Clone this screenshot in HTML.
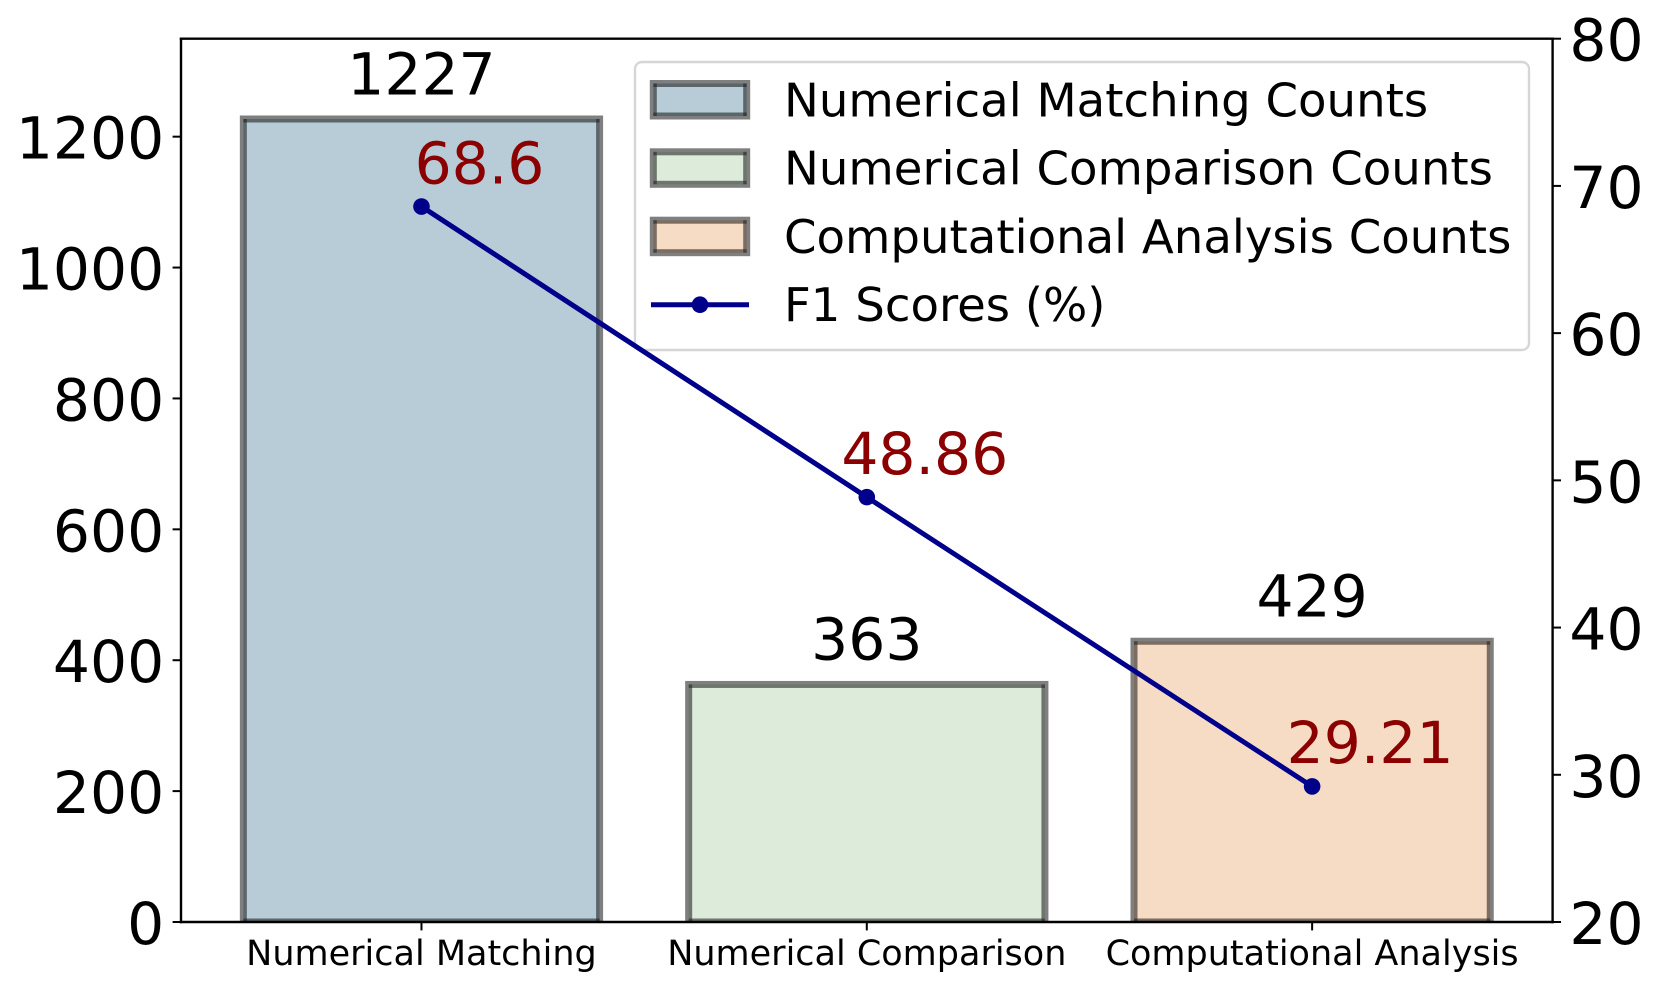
<!DOCTYPE html>
<html lang="en">
<head>
<meta charset="utf-8">
<title>Counts and F1 Scores</title>
<style>
html,body{margin:0;padding:0;background:#fff;}
svg{display:block;font-family:"DejaVu Sans","Liberation Sans",sans-serif;}
</style>
</head>
<body>
<svg id="chart" xmlns="http://www.w3.org/2000/svg" width="1660" height="989" viewBox="0 0 1660 989">
  <rect x="0" y="0" width="1660" height="989" fill="#ffffff"/>
  <g id="bars"></g>
  <g id="axes"></g>
  <g id="legend">
    <rect x="635" y="62" width="894" height="288" rx="7" ry="7" fill="#ffffff" fill-opacity="0.8" stroke="#d6d6d6" stroke-width="2.4"/>
    <g>
      <rect x="653.3" y="83.5" width="93.4" height="32.5" fill="#b7ccd6"/>
      <rect x="653.3" y="83.5" width="93.4" height="32.5" fill="none" stroke="#000" stroke-opacity="0.5" stroke-width="7"/>
      <g fill="#000" fill-opacity="0.4">
        <rect x="653.3" y="83.5" width="3.5" height="3.5"/><rect x="743.2" y="83.5" width="3.5" height="3.5"/>
        <rect x="653.3" y="112.5" width="3.5" height="3.5"/><rect x="743.2" y="112.5" width="3.5" height="3.5"/>
      </g>
      <text x="784" y="116.3" font-size="46.6" fill="#000">Numerical Matching Counts</text>
    </g>
    <g>
      <rect x="653.3" y="151.8" width="93.4" height="32.5" fill="#dcebda"/>
      <rect x="653.3" y="151.8" width="93.4" height="32.5" fill="none" stroke="#000" stroke-opacity="0.5" stroke-width="7"/>
      <g fill="#000" fill-opacity="0.4">
        <rect x="653.3" y="151.8" width="3.5" height="3.5"/><rect x="743.2" y="151.8" width="3.5" height="3.5"/>
        <rect x="653.3" y="180.8" width="3.5" height="3.5"/><rect x="743.2" y="180.8" width="3.5" height="3.5"/>
      </g>
      <text x="784" y="184.5" font-size="46.6" fill="#000">Numerical Comparison Counts</text>
    </g>
    <g>
      <rect x="653.3" y="220.2" width="93.4" height="32.5" fill="#f6dbc5"/>
      <rect x="653.3" y="220.2" width="93.4" height="32.5" fill="none" stroke="#000" stroke-opacity="0.5" stroke-width="7"/>
      <g fill="#000" fill-opacity="0.4">
        <rect x="653.3" y="220.2" width="3.5" height="3.5"/><rect x="743.2" y="220.2" width="3.5" height="3.5"/>
        <rect x="653.3" y="249.2" width="3.5" height="3.5"/><rect x="743.2" y="249.2" width="3.5" height="3.5"/>
      </g>
      <text x="784" y="253" font-size="46.6" fill="#000">Computational Analysis Counts</text>
    </g>
    <g>
      <line x1="651" y1="304.7" x2="749" y2="304.7" stroke="#00008b" stroke-width="5"/>
      <circle cx="700" cy="304.7" r="8.3" fill="#00008b"/>
      <text x="784" y="321.2" font-size="46.6" fill="#000">F1 Scores (%)</text>
    </g>
  </g>
  <g id="series"></g>
  <g id="labels"></g>
</svg>
<script>
const categories = ["Numerical Matching", "Numerical Comparison", "Computational Analysis"];
const counts = [1227, 363, 429];
const f1Scores = [68.6, 48.86, 29.21];
const leftTicks = [0, 200, 400, 600, 800, 1000, 1200];
const rightTicks = [20, 30, 40, 50, 60, 70, 80];
const barColors = ["#b7ccd6", "#dcebda", "#f6dbc5"];

const NS = "http://www.w3.org/2000/svg";
const plot = {left: 181, right: 1552.6, top: 38.7, bottom: 922};
const yMaxLeft = 1349.7;
const yMinRight = 20;
const yMaxRight = 80;
const xMin = -0.54;
const xMax = 2.54;
const barWidth = 0.8;

function xScale(v) { return plot.left + (v - xMin) / (xMax - xMin) * (plot.right - plot.left); }
function yLeft(v) { return plot.bottom - v / yMaxLeft * (plot.bottom - plot.top); }
function yRight(v) { return plot.bottom - (v - yMinRight) / (yMaxRight - yMinRight) * (plot.bottom - plot.top); }

function make(tag, attrs, parent) {
  const el = document.createElementNS(NS, tag);
  Object.keys(attrs).forEach(function (k) { el.setAttribute(k, attrs[k]); });
  parent.appendChild(el);
  return el;
}

const barsG = document.getElementById("bars");
const axesG = document.getElementById("axes");
const seriesG = document.getElementById("series");
const labelsG = document.getElementById("labels");

const clip = make("clipPath", {id: "plot-clip"}, barsG);
make("rect", {x: plot.left, y: 0, width: plot.right - plot.left, height: plot.bottom}, clip);

counts.forEach(function (value, i) {
  const x0 = xScale(i - barWidth / 2);
  const x1 = xScale(i + barWidth / 2);
  const yTop = yLeft(value);
  const g = make("g", {"clip-path": "url(#plot-clip)"}, barsG);
  
  
  make("rect", {x: x0, y: yTop, width: x1 - x0, height: plot.bottom - yTop, fill: barColors[i]}, g);
  make("rect", {x: x0, y: yTop, width: x1 - x0, height: plot.bottom - yTop, fill: "none", stroke: "#000", "stroke-opacity": 0.5, "stroke-width": 7}, g);
  [x0, x1 - 3.5].forEach(function (cx) {
    [yTop, plot.bottom - 3.5].forEach(function (cy) {
      make("rect", {x: cx, y: cy, width: 3.5, height: 3.5, fill: "#000", "fill-opacity": 0.4}, g);
    });
  });
  const t = make("text", {x: (x0 + x1) / 2, y: yTop - 24.7, "font-size": 58.3, "text-anchor": "middle", fill: "#000"}, labelsG);
  
  
  t.textContent = String(value);
});

function spine(x1, y1, x2, y2) {
  const l = make("line", {x1: x1, y1: y1, x2: x2, y2: y2, stroke: "#000", "stroke-width": 2.4, "stroke-linecap": "square"}, axesG);
  
  
}
spine(plot.left, plot.top, plot.right, plot.top);
spine(plot.left, plot.bottom, plot.right, plot.bottom);
spine(plot.left, plot.top, plot.left, plot.bottom);
spine(plot.right, plot.top, plot.right, plot.bottom);

leftTicks.forEach(function (v) {
  const y = yLeft(v);
  const tick = make("line", {x1: plot.left - 8.4, y1: y, x2: plot.left, y2: y, stroke: "#000", "stroke-width": 2}, axesG);
  
  
  const t = make("text", {x: plot.left - 16.8, y: y + 22, "font-size": 58.3, "text-anchor": "end", fill: "#000"}, axesG);
  
  
  t.textContent = String(v);
});

rightTicks.forEach(function (v) {
  const y = yRight(v);
  const tick = make("line", {x1: plot.right, y1: y, x2: plot.right + 8.4, y2: y, stroke: "#000", "stroke-width": 2}, axesG);
  
  
  const t = make("text", {x: plot.right + 16.8, y: y + 22, "font-size": 58.3, "text-anchor": "start", fill: "#000"}, axesG);
  
  
  t.textContent = String(v);
});

categories.forEach(function (c, i) {
  const x = xScale(i);
  const tick = make("line", {x1: x, y1: plot.bottom, x2: x, y2: plot.bottom + 8.4, stroke: "#000", "stroke-width": 2}, axesG);
  
  
  const t = make("text", {x: x, y: 965, "font-size": 35, "text-anchor": "middle", fill: "#000"}, axesG);
  
  
  t.textContent = c;
});

const linePoints = f1Scores.map(function (v, i) { return xScale(i) + "," + yRight(v); }).join(" ");
const f1Line = make("polyline", {points: linePoints, fill: "none", stroke: "#00008b", "stroke-width": 5}, seriesG);



f1Scores.forEach(function (v, i) {
  const cx = xScale(i);
  const cy = yRight(v);
  const dot = make("circle", {cx: cx, cy: cy, r: 8.3, fill: "#00008b"}, seriesG);
  
  
  const t = make("text", {x: cx + 58, y: cy - 23.2, "font-size": 58.3, "text-anchor": "middle", fill: "#8b0000"}, labelsG);
  
  
  t.textContent = String(v);
});
</script>
</body>
</html>
